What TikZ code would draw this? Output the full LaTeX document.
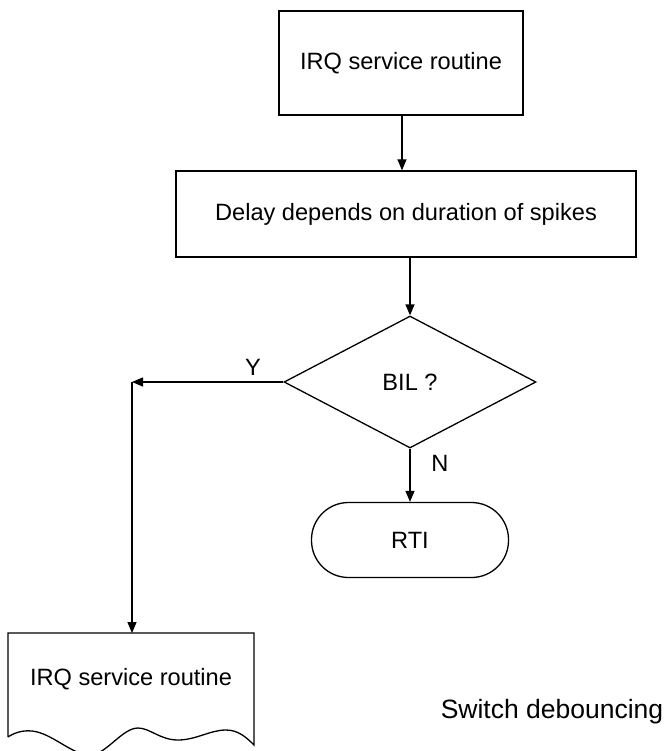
\documentclass[tikz,border=0pt]{standalone}
\usepackage{fontspec}
\setmainfont{Liberation Sans}
\usetikzlibrary{arrows.meta,shapes.geometric}
\begin{document}
\begin{tikzpicture}[x=1pt,y=-1pt,
  font=\fontsize{23.6}{28}\selectfont,
  line width=1.3pt,
  procbox/.style={draw, rectangle, inner sep=0pt},
  decbox/.style={draw, diamond, inner sep=0pt},
  termbox/.style={draw, rectangle, rounded corners=37pt, inner sep=0pt},
  lbl/.style={inner sep=0pt},
  arr/.style={-{Triangle[length=11pt,width=9pt]}}]
  \useasboundingbox (0,0) rectangle (666,751);

  % main blocks
  \node[procbox, minimum width=244pt, minimum height=104pt] (irq) at (401,63) {IRQ service routine};
  \node[procbox, minimum width=460pt, minimum height=86pt] (dly) at (406,214) {Delay depends on duration of spikes};
  \node[decbox, minimum width=252pt, minimum height=132pt] (bil) at (410,382) {BIL ?};
  \node[termbox, minimum width=197pt, minimum height=75pt] (rti) at (410,540) {RTI};

  % document-shaped block with a wavy lower edge
  \draw (8,737) -- (8,633) -- (254,633) -- (254,745)
        .. controls (246,737) and (238,730) .. (226,730)
        .. controls (210,730) and (196,740) .. (178,740)
        .. controls (160,740) and (150,728) .. (138,728)
        .. controls (122,728) and (106,755) .. (90,755)
        .. controls (72,755) and (52,733) .. (32,731)
        .. controls (22,730) and (14,733) .. (8,737);
  \node[lbl] (irq2) at (131,679) {IRQ service routine};
  \coordinate (irq2top) at (132,633);

  % connectors
  \coordinate (ycorner) at (132,382);
  \draw[arr] (irq.south -| 402,0) -- (dly.north -| 402,0);
  \draw[arr] (dly.south -| bil.north) -- (bil.north);
  \draw[arr] (bil.south) -- (rti.north -| bil.south);
  \draw[arr] (bil.west) -- (ycorner);
  \draw[arr] (ycorner) -- (irq2top);

  % branch labels and caption
  \node[lbl] (ylbl) at (253,367) {Y};
  \node[lbl] (nlbl) at (440,463) {N};
  \node[lbl, font=\fontsize{26.5}{31}\selectfont] (cap) at (552,712) {Switch debouncing};
\end{tikzpicture}
\end{document}
